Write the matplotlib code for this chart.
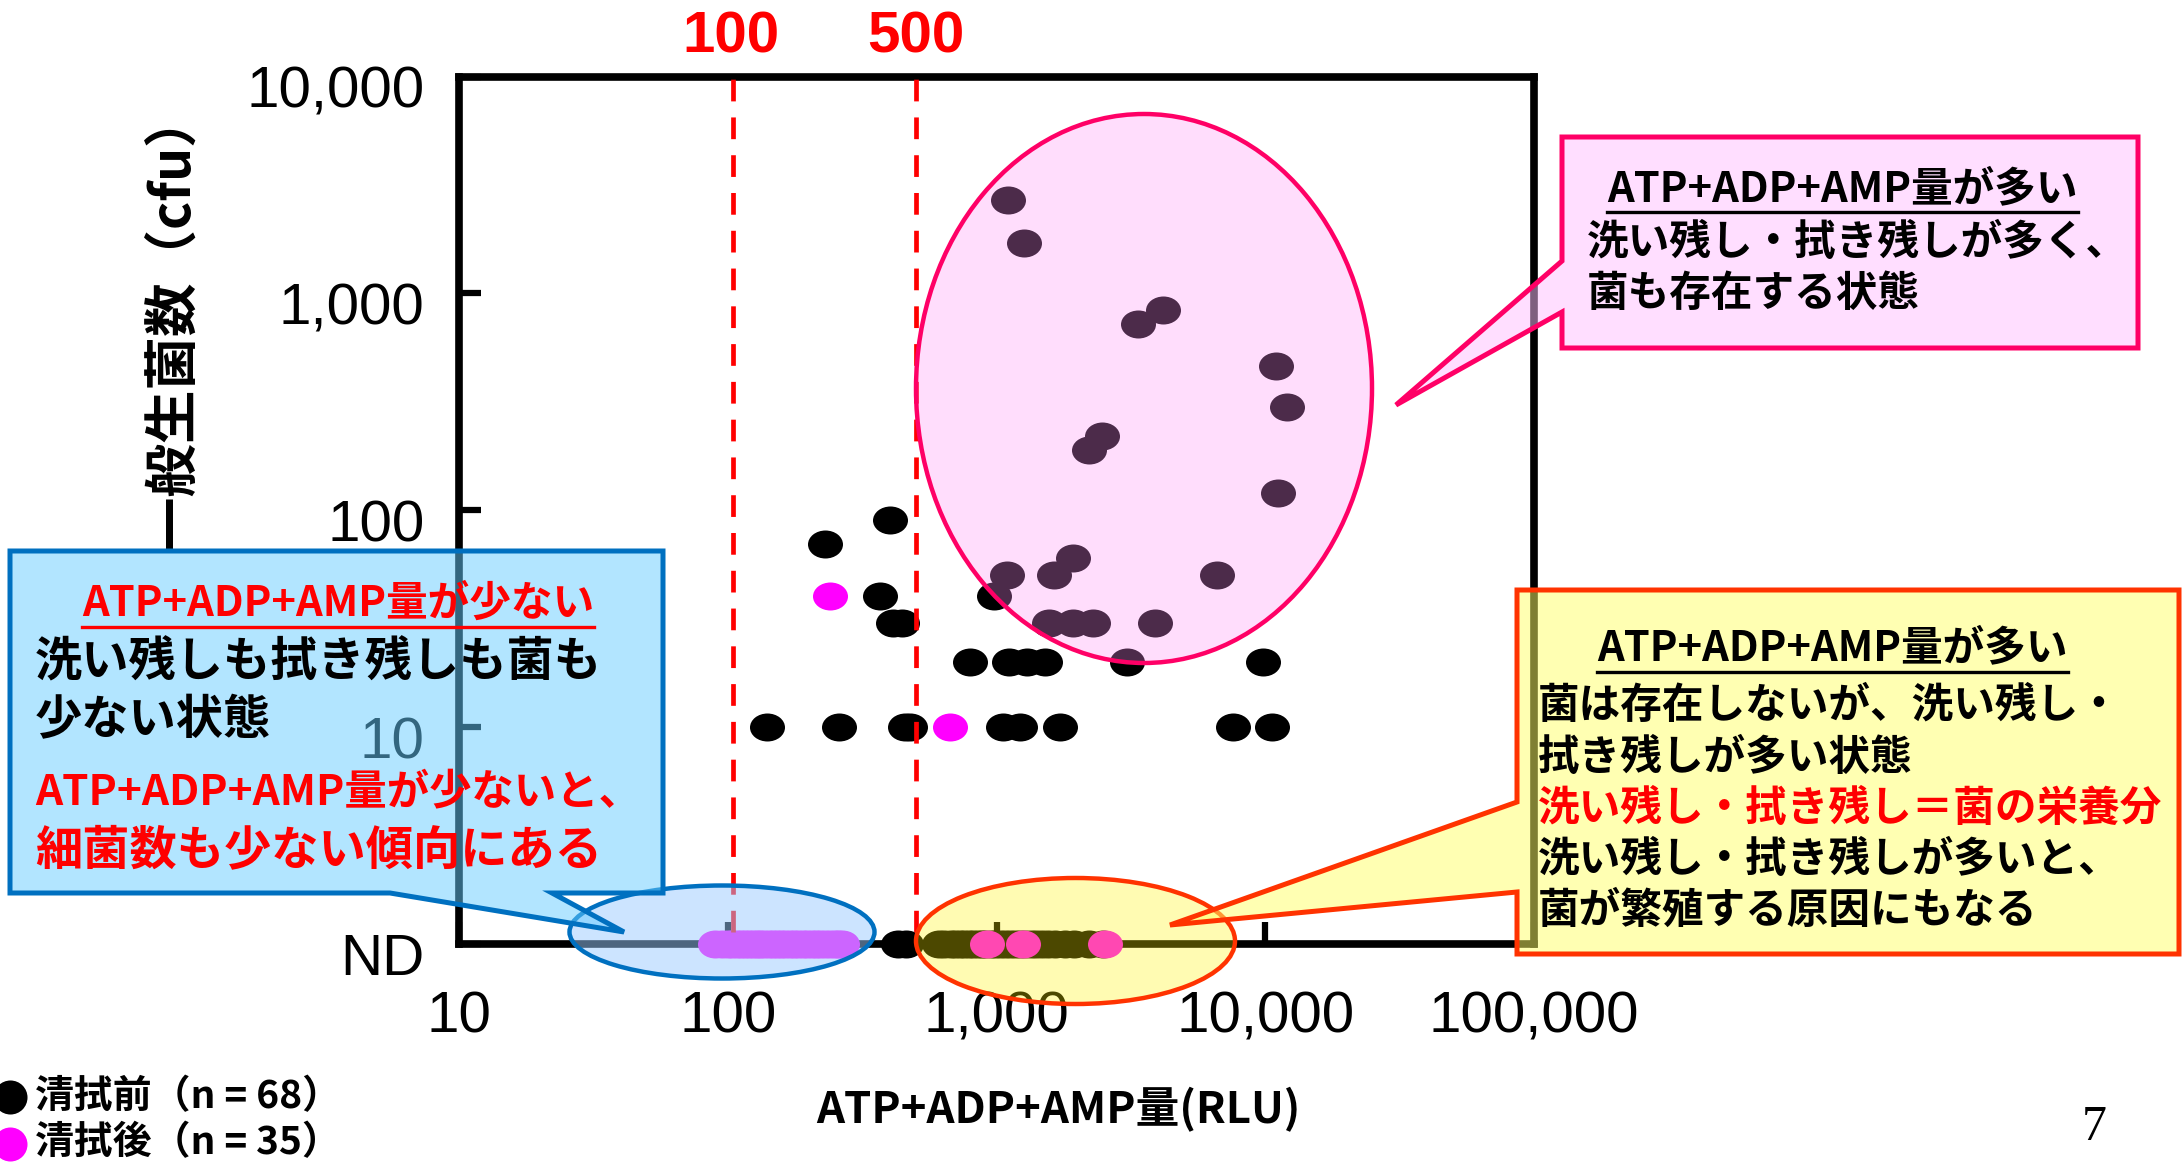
import numpy as np
import matplotlib
matplotlib.use('Agg')
import matplotlib.pyplot as plt
from matplotlib.path import Path
from matplotlib.transforms import Affine2D, ScaledTranslation
from matplotlib.patches import Ellipse, Polygon
from matplotlib.lines import Line2D
from matplotlib.ticker import NullLocator

# ---------------- data ----------------
# 清拭前 (before wiping), detected values: ATP+ADP+AMP (RLU) vs 一般生菌数 (cfu)
before_x = [140, 260, 456, 476, 1060, 1220, 1720, 7600, 10600,
            800, 1110, 1300, 1520, 3050, 9850,
            413, 446, 1570, 1920, 2280, 3890,
            370, 980,
            1090, 1640, 6630,
            1920, 230, 400,
            2200, 2460, 11200, 12000, 11000, 3350, 4150, 1270, 1100]
before_y = [10, 10, 10, 10, 10, 10, 10, 10, 10,
            20, 20, 20, 20, 20, 20,
            30, 30, 30, 30, 30, 30,
            40, 40,
            50, 50, 50,
            60, 70, 90,
            190, 220, 120, 300, 460, 720, 840, 1700, 2700]
# 清拭前, bacteria not detected (ND)
before_nd_x = [430, 460, 610, 640, 680, 700, 730, 760, 790, 820, 850, 880,
               910, 950, 990, 1030, 1080, 1120, 1170, 1220, 1280, 1340,
               1400, 1480, 1560, 1650, 1800, 1950, 2200, 2480]
# 清拭後 (after wiping)
after_x = [240, 670]
after_y = [40, 10]
after_nd_x = [90, 95, 100, 104, 108, 112, 116, 120, 124, 128, 132, 137, 142,
              147, 152, 158, 164, 170, 176, 183, 190, 197, 205, 213, 221,
              230, 240, 250, 258, 267, 920, 1260, 2530]
ND_VALUE = 1

x_ticks = [10, 100, 1000, 10000, 100000]
x_tick_labels = ['10', '100', '1,000', '10,000', '100,000']
y_ticks = [1, 10, 100, 1000, 10000]
y_tick_labels = ['ND', '10', '100', '1,000', '10,000']
thresholds = [100, 500]
threshold_labels = ['100', '500']

legend_labels = ['清拭前（n = 68）', '清拭後（n = 35）']

# ---------------- layout helpers ----------------
W, H = 2182, 1166
def fx(x):
    return x / W
def fy(y):
    return 1 - y / H

CJK = ['Noto Sans CJK JP', 'DejaVu Sans']
NUM = ['Liberation Sans', 'DejaVu Sans']
plt.rcParams['font.family'] = CJK

fig = plt.figure(figsize=(W / 100, H / 100), dpi=100)
ax = fig.add_axes([fx(459), fy(943.5), (1534 - 459) / W, (943.5 - 76.5) / H])
ax.set_xscale('log')
ax.set_yscale('log')
ax.set_xlim(10, 100000)
ax.set_ylim(1, 10000)

# elliptical marker (wider than tall, as in the slide)
ell_marker = Path.unit_circle().transformed(Affine2D().scale(1.25, 1.0))
MS = 25.2

ax.plot(before_x, before_y, linestyle='none', marker=ell_marker, markersize=MS,
        color='black', mew=0, clip_on=False, zorder=4)
ax.plot(before_nd_x, [ND_VALUE] * len(before_nd_x), linestyle='none',
        marker=ell_marker, markersize=MS, color='black', mew=0, clip_on=False, zorder=4)
ax.plot(after_x, after_y, linestyle='none', marker=ell_marker, markersize=MS,
        color='#FF00FF', mew=0, clip_on=False, zorder=4.5)
ax.plot(after_nd_x, [ND_VALUE] * len(after_nd_x), linestyle='none',
        marker=ell_marker, markersize=MS, color='#FF00FF', mew=0, clip_on=False, zorder=4.5)

for t, lab in zip(thresholds, threshold_labels):
    ax.axvline(t * 1.045 if t == 100 else t, ymin=0.013, ymax=1, color='#FF0000', lw=3.4,
               linestyle=(0, (4.6, 3.4)), zorder=5)
    ax.text(t * 1.03 if t == 100 else t, 1.045, lab, transform=ax.get_xaxis_transform(),
            ha='center', va='center', color='#FF0000', fontsize=42, fontweight='bold',
            family=['Liberation Sans Narrow', 'Liberation Sans'])

# axes styling
for s in ax.spines.values():
    s.set_linewidth(5.5)
    s.set_color('black')
ax.xaxis.set_minor_locator(NullLocator())
ax.yaxis.set_minor_locator(NullLocator())
ax.set_xticks(x_ticks, x_tick_labels, fontsize=42, family=NUM)
ax.set_yticks(y_ticks, y_tick_labels, fontsize=42, family=NUM)
ax.tick_params(axis='both', direction='in', length=15.8, width=4.5, colors='black')
ax.tick_params(axis='x', pad=34)
ax.tick_params(axis='y', pad=25)
shift = ScaledTranslation(0, -7.5 / 72, fig.dpi_scale_trans)
for lbl in ax.get_yticklabels():
    lbl.set_transform(lbl.get_transform() + shift)

ax.set_xlabel('ATP+ADP+AMP量(RLU)', fontsize=31.5, fontweight='bold')
ax.xaxis.set_label_coords((1058 - 459) / 1075, (943.5 - 1110) / 867)
ax.xaxis.label.set_va('center')
ax.set_ylabel('一般生菌数（cfu）', fontsize=38.5, fontweight='bold')
ax.yaxis.set_label_coords((174 - 459) / 1075, (943.5 - 320) / 867)
ax.yaxis.label.set_va('center')
ax.yaxis.label.set_ha('center')

# ---------------- highlight ellipses ----------------
def add_ellipse(cx, cy, w, h, face, edge, lw):
    e = Ellipse((fx(cx), fy(cy)), w / W, h / H, transform=fig.transFigure,
                facecolor=face, edgecolor=edge, lw=lw, zorder=1)
    fig.add_artist(e)

add_ellipse(1144, 388.5, 456, 549, (1.0, 144 / 255, 248 / 255, 0.3), '#FF0066', 3.2)
add_ellipse(722, 932, 305, 93, (154 / 255, 202 / 255, 1.0, 0.5), '#0070C0', 3.2)
add_ellipse(1075.5, 941, 319, 126, (1.0, 242 / 255, 0.0, 0.3), '#FF3300', 3.2)

# ---------------- callouts ----------------
def add_callout(pts, face, edge, lw):
    arr = np.array([[fx(x), fy(y)] for x, y in pts])
    p = Polygon(arr, closed=True, transform=fig.transFigure, facecolor=face,
                edgecolor=edge, lw=lw, joinstyle='miter', zorder=2)
    fig.add_artist(p)

add_callout([(1562, 137), (2138, 137), (2138, 348), (1562, 348), (1562, 312),
             (1396, 405), (1562, 261)], (1.0, 190 / 255, 1.0, 0.5), '#FF0066', 3.6)
add_callout([(10, 551), (663, 551), (663, 893), (552, 893), (624, 932),
             (390, 893), (10, 893)], (102 / 255, 204 / 255, 1.0, 0.5), '#0070C0', 3.6)
add_callout([(1517, 590), (2179, 590), (2179, 954), (1517, 954), (1517, 892),
             (1170, 925), (1517, 802)], (1.0, 1.0, 102 / 255, 0.5), '#FF3300', 3.6)

def ftext(x, y, s, size, color='black', ha='left', weight='bold'):
    return fig.text(fx(x), fy(y), s, fontsize=size, color=color, ha=ha,
                    va='center', fontweight=weight, zorder=3)

underlined = []
# pink callout
t = ftext(1607, 189, 'ATP+ADP+AMP量が多い', 30)
underlined.append((t, 'black', 212))
ftext(1587, 243, '洗い残し・拭き残しが多く、', 30)
ftext(1587, 294, '菌も存在する状態', 30)
# blue callout
t = ftext(338, 604, 'ATP+ADP+AMP量が少ない', 30, color='#FF0000', ha='center')
underlined.append((t, '#FF0000', 627))
ftext(35, 662, '洗い残しも拭き残しも菌も', 34)
ftext(35, 720, '少ない状態', 34)
ftext(35, 792, 'ATP+ADP+AMP量が少ないと、', 30.5, color='#FF0000')
ftext(35, 850, '細菌数も少ない傾向にある', 34, color='#FF0000')
# yellow callout
t = ftext(1597, 648, 'ATP+ADP+AMP量が多い', 30)
underlined.append((t, 'black', 672))
ftext(1538, 706, '菌は存在しないが、洗い残し・', 30)
ftext(1538, 758, '拭き残しが多い状態', 30)
ftext(1538, 809, '洗い残し・拭き残し＝菌の栄養分', 30, color='#FF0000')
ftext(1538, 860, '洗い残し・拭き残しが多いと、', 30)
ftext(1538, 911, '菌が繁殖する原因にもなる', 30)

# legend (figure level)
fig.add_artist(Line2D([fx(10)], [fy(1097)], marker='o', markersize=24.5, color='black',
                      mew=0, linestyle='none', transform=fig.transFigure))
fig.add_artist(Line2D([fx(10)], [fy(1144)], marker='o', markersize=24.5, color='#FF00FF',
                      mew=0, linestyle='none', transform=fig.transFigure))
fig.text(fx(35), fy(1097), legend_labels[0], fontsize=28, va='center', fontweight='bold')
fig.text(fx(35), fy(1143), legend_labels[1], fontsize=28, va='center', fontweight='bold')

# page number
fig.text(fx(2094), fy(1128), '7', fontsize=36, ha='center', va='center',
         family=['Liberation Serif', 'DejaVu Serif'])

# underlines for callout titles
fig.canvas.draw()
renderer = fig.canvas.get_renderer()
for t, col, ypx in underlined:
    bb = t.get_window_extent(renderer)
    fig.add_artist(Line2D([bb.x0 / W, bb.x1 / W], [fy(ypx)] * 2, color=col, lw=2.4,
                          transform=fig.transFigure, zorder=3))

fig.savefig('out.png', dpi=100)
